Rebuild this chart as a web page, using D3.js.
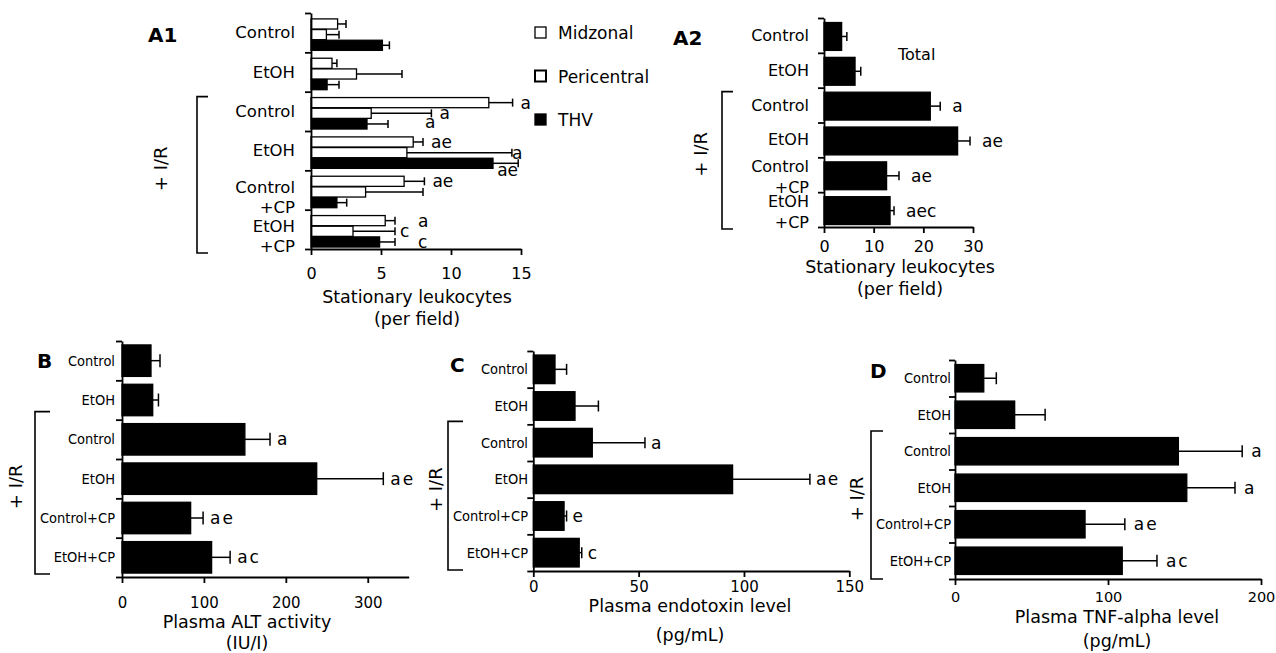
<!DOCTYPE html>
<html>
<head>
<meta charset="utf-8">
<script src="https://d3js.org/d3.v7.min.js"></script>
<style>
  body { margin: 0; background: #fff; }
  svg { display: block; font-family: "DejaVu Sans", Verdana, sans-serif; }
  .axis path, .axis line { stroke: #000; stroke-width: 1.8; }
  .small { font-family: "DejaVu Sans Condensed", "DejaVu Sans", sans-serif; }
</style>
</head>
<body>
<svg id="chart" width="1276" height="653"></svg>
<script>
// groups, top to bottom; the I/R bracket starts at index 2
var groups = ["Control", "EtOH", "Control", "EtOH", "Control+CP", "EtOH+CP"];
var irStart = 2;

// A1 - stationary leukocytes per zone
var a1Series = ["Midzonal", "Pericentral", "THV"];
var a1Midzonal = [1.9, 1.5, 12.7, 7.3, 6.65, 5.3];
var a1MidzonalErr = [0.6, 0.35, 1.7, 0.7, 1.45, 0.7];
var a1MidzonalSig = ["", "", "a", "ae", "ae", "a"];
var a1Pericentral = [1.1, 3.25, 4.3, 6.85, 3.9, 3.0];
var a1PericentralErr = [0.9, 3.25, 4.3, 7.5, 4.1, 3.0];
var a1PericentralSig = ["", "", "a", "a", "", "c"];
var a1Thv = [5.1, 1.15, 4.0, 13.0, 1.85, 4.9];
var a1ThvErr = [0.5, 0.85, 1.5, 1.8, 0.7, 1.1];
var a1ThvSig = ["", "", "a", "ae", "", "c"];
var a1Max = 15, a1Ticks = [0, 5, 10, 15];

// A2 - total
var a2Total = [3.55, 6.25, 21.4, 26.9, 12.6, 13.3];
var a2TotalErr = [1.05, 1.15, 2.0, 2.5, 2.5, 0.8];
var a2TotalSig = ["", "", "a", "ae", "ae", "aec"];
var a2Max = 30, a2Ticks = [0, 10, 20, 30];

// B - plasma ALT
var bAlt = [35.4, 37.5, 150, 237.7, 83.8, 109.4];
var bAltErr = [11, 7, 30.7, 81.3, 15.2, 22.6];
var bAltSig = ["", "", "a", "ae", "ae", "ac"];
var bMax = 350, bTicks = [0, 100, 200, 300];

// C - plasma endotoxin
var cEndotoxin = [10.3, 19.8, 28, 94.6, 14.6, 21.8];
var cEndotoxinErr = [5.5, 11.1, 25, 36.7, 1.2, 1.2];
var cEndotoxinSig = ["", "", "a", "ae", "e", "c"];
var cMax = 150, cTicks = [0, 50, 100, 150];

// D - plasma TNF-alpha
var dTnf = [18.8, 39, 146, 151.5, 85, 109.3];
var dTnfErr = [8.2, 19.9, 41.7, 31.5, 26, 22.7];
var dTnfSig = ["", "", "a", "a", "ae", "ac"];
var dMax = 200, dTicks = [0, 100, 200];

var svg = d3.select("#chart");

function drawPanel(p) {
    var g = svg.append("g");
    var n = groups.length;
    var x = d3.scaleLinear().domain([0, p.max]).range([p.x0, p.x1]);
    var yStep = d3.scaleLinear().domain([0, n]).range([p.top, p.bottom]);
    var y = d3.scaleBand().domain(d3.range(n)).range([p.top, p.bottom])
        .paddingInner(p.pad).paddingOuter(p.pad / 2).align(p.align == null ? 0.5 : p.align);
    var ys = d3.scaleBand().domain(d3.range(p.series.length)).range([0, y.bandwidth()])
        .paddingInner(p.subPad || 0);
    var nudge = p.nudge || {};

    p.series.forEach(function (s, j) {
        var yc = function (i) { return y(i) + ys(j) + ys.bandwidth() / 2; };

        g.append("g").selectAll("rect").data(s.values).join("rect")
            .attr("x", x(0))
            .attr("y", function (d, i) { return y(i) + ys(j); })
            .attr("width", function (d) { return x(d) - x(0); })
            .attr("height", ys.bandwidth())
            .attr("fill", s.fill)
            .attr("stroke", "#000")
            .attr("stroke-width", 1.3);

        // Fehlerbalken
        var eg = g.append("g").attr("stroke", "#000").attr("stroke-width", 1.5);
        eg.selectAll("line.err").data(s.values).join("line").attr("class", "err")
            .attr("x1", function (d) { return x(d); })
            .attr("x2", function (d, i) { return x(d + s.errs[i]); })
            .attr("y1", function (d, i) { return yc(i); })
            .attr("y2", function (d, i) { return yc(i); });
        eg.selectAll("line.cap").data(s.values).join("line").attr("class", "cap")
            .attr("x1", function (d, i) { return x(d + s.errs[i]); })
            .attr("x2", function (d, i) { return x(d + s.errs[i]); })
            .attr("y1", function (d, i) { return yc(i) - p.capH / 2; })
            .attr("y2", function (d, i) { return yc(i) + p.capH / 2; });

        // Signifikanz-Buchstaben
        g.append("g").selectAll("text").data(s.sigs).join("text")
            .attr("x", function (d, i) {
                var k = nudge[i + "-" + j] || {};
                return x(s.values[i] + s.errs[i]) + p.sigGap + (k.dx || 0);
            })
            .attr("y", function (d, i) {
                var k = nudge[i + "-" + j] || {};
                return yc(i) + (k.dy || 0);
            })
            .attr("dominant-baseline", "central")
            .attr("font-size", 17)
            .attr("letter-spacing", p.sigSpacing || 0)
            .text(function (d) { return d; });
    });

    // Kategorien
    var cg = g.append("g").attr("text-anchor", "end").attr("font-size", p.catFont);
    if (p.small) cg.attr("class", "small");
    groups.forEach(function (name, i) {
        var yc = yStep(i + 0.5);
        var parts = (p.twoLine && name.indexOf("+") > 0) ? [name.split("+")[0], "+" + name.split("+")[1]] : [name];
        parts.forEach(function (t, k) {
            cg.append("text")
                .attr("x", p.catX)
                .attr("y", parts.length > 1 ? yc + p.twoLineDy[k] : yc)
                .attr("dominant-baseline", "central")
                .text(t);
        });
    });

    // Achsen
    g.append("g").attr("class", "axis")
        .attr("transform", "translate(0," + p.bottom + ")")
        .call(d3.axisBottom(x).tickValues(p.ticks).tickSize(6).tickSizeOuter(0).tickPadding(p.tickPad))
        .attr("font-family", null)
        .attr("font-size", p.tickFont);
    g.append("g").attr("class", "axis")
        .attr("transform", "translate(" + p.x0 + ",0)")
        .call(d3.axisLeft(yStep).tickValues(d3.range(n + 1)).tickFormat("").tickSize(6).tickSizeOuter(0));

    // Klammer + I/R
    var bTop = yStep(irStart) + p.bracketTop, bBot = p.bottom + p.bracketBot;
    g.append("path")
        .attr("d", "M" + (p.bracketX + p.bracketTick) + "," + bTop + "H" + p.bracketX +
            "V" + bBot + "H" + (p.bracketX + p.bracketTick))
        .attr("fill", "none").attr("stroke", "#000").attr("stroke-width", 1.6);
    g.append("text")
        .attr("transform", "translate(" + p.irX + "," + ((bTop + bBot) / 2 - 6) + ") rotate(-90)")
        .attr("text-anchor", "middle").attr("dominant-baseline", "central")
        .attr("font-size", 18).text("+ I/R");

    // Panel-Buchstabe
    g.append("text").attr("x", p.letterX).attr("y", p.letterY)
        .attr("font-weight", "bold").attr("font-size", 20).text(p.letter);

    // Achsentitel
    p.title.forEach(function (t, k) {
        g.append("text").attr("x", p.titleX).attr("y", p.titleY[k])
            .attr("text-anchor", "middle").attr("font-size", 17.5).text(t);
    });

    return { x: x, y: y };
}

drawPanel({
    letter: "A1", letterX: 148, letterY: 42,
    x0: 311, x1: 521, top: 13, bottom: 249, pad: 0.2, align: 0.75, subPad: 0.05,
    max: a1Max, ticks: a1Ticks, tickPad: 13, tickFont: 16,
    series: [
        { values: a1Midzonal, errs: a1MidzonalErr, sigs: a1MidzonalSig, fill: "#fff" },
        { values: a1Pericentral, errs: a1PericentralErr, sigs: a1PericentralSig, fill: "#fff" },
        { values: a1Thv, errs: a1ThvErr, sigs: a1ThvSig, fill: "#000" }
    ],
    capH: 8, sigGap: 8,
    nudge: { "2-2": { dx: 29, dy: -2 }, "3-2": { dx: -29, dy: 7 }, "3-1": { dx: -8 },
             "5-0": { dx: 15 }, "5-1": { dx: -3 }, "5-2": { dx: 15 } },
    catX: 295, catFont: 16.5, twoLine: true, twoLineDy: [-3, 17],
    bracketX: 197, bracketTick: 11, bracketTop: 5, bracketBot: 4, irX: 160,
    title: ["Stationary leukocytes", "(per field)"], titleX: 417, titleY: [303, 325]
});

drawPanel({
    letter: "A2", letterX: 673, letterY: 45,
    x0: 824, x1: 973, top: 18, bottom: 227, pad: 0.2, align: 0.65,
    max: a2Max, ticks: a2Ticks, tickPad: 8, tickFont: 16,
    series: [{ values: a2Total, errs: a2TotalErr, sigs: a2TotalSig, fill: "#000" }],
    capH: 9, sigGap: 12,
    catX: 809, catFont: 16, twoLine: true, twoLineDy: [-8, 13],
    bracketX: 722, bracketTick: 11, bracketTop: 4, bracketBot: 2, irX: 700,
    title: ["Stationary leukocytes", "(per field)"], titleX: 900, titleY: [273, 295]
});

drawPanel({
    letter: "B", letterX: 37, letterY: 368,
    x0: 122, x1: 408.7, top: 341, bottom: 577, pad: 0.2,
    max: bMax, ticks: bTicks, tickPad: 14, tickFont: 15,
    series: [{ values: bAlt, errs: bAltErr, sigs: bAltSig, fill: "#000" }],
    capH: 13, sigGap: 7, sigSpacing: 2,
    catX: 115, catFont: 14.5, small: true,
    bracketX: 35, bracketTick: 15, bracketTop: -8, bracketBot: -3, irX: 15,
    title: ["Plasma ALT activity", "(IU/I)"], titleX: 247, titleY: [627.5, 649]
});

drawPanel({
    letter: "C", letterX: 450, letterY: 372,
    x0: 533.3, x1: 849.3, top: 351, bottom: 571, pad: 0.22,
    max: cMax, ticks: cTicks, tickPad: 4, tickFont: 15,
    series: [{ values: cEndotoxin, errs: cEndotoxinErr, sigs: cEndotoxinSig, fill: "#000" }],
    capH: 11, sigGap: 6, sigSpacing: 1.5,
    catX: 528, catFont: 14.5, small: true,
    bracketX: 448, bracketTick: 15, bracketTop: -3, bracketBot: -1, irX: 435,
    title: ["Plasma endotoxin level", "(pg/mL)"], titleX: 690, titleY: [612, 641]
});

drawPanel({
    letter: "D", letterX: 870, letterY: 378,
    x0: 955, x1: 1261, top: 360, bottom: 579, pad: 0.25,
    max: dMax, ticks: dTicks, tickPad: 7, tickFont: 14.5,
    series: [{ values: dTnf, errs: dTnfErr, sigs: dTnfSig, fill: "#000" }],
    capH: 12, sigGap: 9, sigSpacing: 2,
    catX: 951, catFont: 14.5, small: true,
    bracketX: 871, bracketTick: 12, bracketTop: -2, bracketBot: 0, irX: 856,
    title: ["Plasma TNF-alpha level", "(pg/mL)"], titleX: 1117, titleY: [623, 647]
});

// Legende A1
var legend = svg.append("g").attr("font-size", 17);
var legendFill = ["#fff", "#fff", "#000"];
legend.selectAll("rect").data(a1Series).join("rect")
    .attr("x", 535).attr("y", function (d, i) { return 27 + i * 43.5; })
    .attr("width", 11).attr("height", 11)
    .attr("fill", function (d, i) { return legendFill[i]; })
    .attr("stroke", "#000").attr("stroke-width", function (d, i) { return i === 1 ? 2 : 1.3; });
legend.selectAll("text").data(a1Series).join("text")
    .attr("x", 558).attr("y", function (d, i) { return 39 + i * 43.5; })
    .text(function (d) { return d; });

// "Total" in A2
svg.append("text").attr("x", 898).attr("y", 60).attr("font-size", 16).text("Total");
</script>
</body>
</html>
